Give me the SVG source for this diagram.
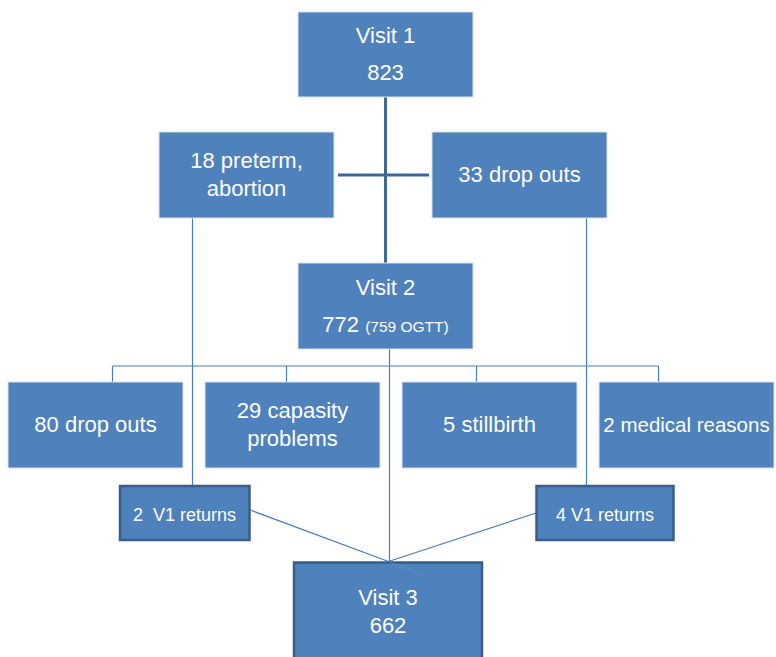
<svg xmlns="http://www.w3.org/2000/svg" width="776" height="657" viewBox="0 0 776 657">
<style>
.box{fill:#4f81bd;stroke:#d9e3ef;stroke-width:1}
.dbox{fill:#4f81bd;stroke:#385d8a;stroke-width:2.5}
.t{font-family:"Liberation Sans",Arial,sans-serif;font-size:22px;fill:#ffffff;text-anchor:middle}
.s{font-size:18px}
.xs{font-size:15.5px}
.m{font-size:20.5px}
.thin{stroke:#4a7ebb;stroke-width:1.2;fill:none}
.thick{stroke:#3d6797;stroke-width:3;fill:none}
</style>
<rect width="776" height="657" fill="#ffffff"/>
<g id="connectors">
<line class="thick" x1="385.5" y1="97" x2="385.5" y2="263"/>
<line class="thick" x1="338" y1="175" x2="429" y2="175"/>
<line class="thin" x1="192.5" y1="218" x2="192.5" y2="486"/>
<line class="thin" x1="586.5" y1="218" x2="586.5" y2="486"/>
<line class="thin" x1="389.5" y1="349" x2="389.5" y2="562"/>
<line class="thin" x1="112.5" y1="366" x2="658.5" y2="366"/>
<line class="thin" x1="112.5" y1="366" x2="112.5" y2="382"/>
<line class="thin" x1="286.5" y1="366" x2="286.5" y2="382"/>
<line class="thin" x1="476.5" y1="366" x2="476.5" y2="382"/>
<line class="thin" x1="658.5" y1="366" x2="658.5" y2="382"/>
<line class="thin" x1="250" y1="510" x2="388.5" y2="561.5"/>
<line class="thin" x1="536" y1="513" x2="388.5" y2="561.5"/>
</g>
<g id="visit1">
<rect class="box" x="298" y="12" width="175" height="85"/>
<text class="t" x="385.5" y="43">Visit 1</text>
<text class="t" x="385.5" y="80">823</text>
</g>
<g id="preterm">
<rect class="box" x="159" y="132" width="175" height="86"/>
<text class="t" x="246.5" y="168">18 preterm,</text>
<text class="t" x="246.5" y="196">abortion</text>
</g>
<g id="dropouts33">
<rect class="box" x="432" y="132" width="175" height="86"/>
<text class="t" x="519.5" y="182">33 drop outs</text>
</g>
<g id="visit2">
<rect class="box" x="298" y="263" width="175" height="86"/>
<text class="t" x="385.5" y="295">Visit 2</text>
<text class="t" x="385.5" y="332">772 <tspan class="xs">(759 OGTT)</tspan></text>
</g>
<g id="dropouts80">
<rect class="box" x="8" y="382" width="175" height="86"/>
<text class="t" x="95.5" y="432">80 drop outs</text>
</g>
<g id="capasity">
<rect class="box" x="205" y="382" width="175" height="86"/>
<text class="t" x="292.5" y="418">29 capasity</text>
<text class="t" x="292.5" y="446">problems</text>
</g>
<g id="stillbirth">
<rect class="box" x="402" y="382" width="175" height="86"/>
<text class="t" x="489.5" y="432">5 stillbirth</text>
</g>
<g id="medical">
<rect class="box" x="599" y="382" width="175" height="86"/>
<text class="t m" x="686.5" y="432">2 medical reasons</text>
</g>
<g id="v1returns2">
<rect class="dbox" x="120" y="486" width="129.5" height="54"/>
<text class="t s" x="184.5" y="520.5" xml:space="preserve">2  V1 returns</text>
</g>
<g id="v1returns4">
<rect class="dbox" x="536.5" y="486" width="137" height="54"/>
<text class="t s" x="605" y="520.5">4 V1 returns</text>
</g>
<g id="visit3">
<rect class="dbox" x="294" y="562.5" width="188" height="100"/>
<line x1="389" y1="562" x2="423" y2="575" stroke="#6f95c6" stroke-width="1" opacity="0.6"/>
<text class="t" x="388" y="604.5">Visit 3</text>
<text class="t" x="388" y="632.5">662</text>
</g>
</svg>
